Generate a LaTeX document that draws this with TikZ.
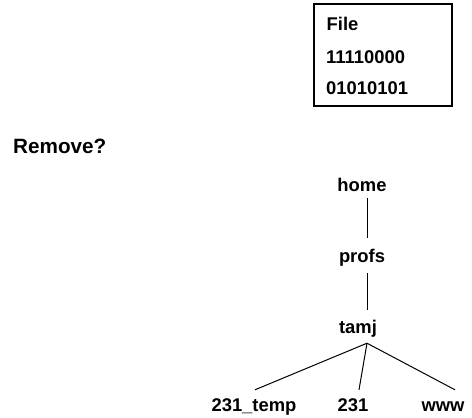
\documentclass[tikz,border=0pt]{standalone}
\usepackage{fontspec}
\setmainfont{Liberation Sans}
\begin{document}
\begin{tikzpicture}[x=1pt,y=-1pt,
  lbl/.style={font=\bfseries\fontsize{18.4}{22}\selectfont, inner sep=0pt,
    text height=13pt, text depth=4pt},
  biglbl/.style={lbl, font=\bfseries\fontsize{20.7}{24}\selectfont},
  link/.style={line width=1pt}]
\path[use as bounding box] (0,0) rectangle (472,418);

% file box with its contents
\node[draw, line width=1.2pt, minimum width=138pt, minimum height=102pt, inner sep=0pt] (filebox) at (383,55) {};
\node[lbl, anchor=base west] (fname) at (326.5,30) {File};
\node[lbl, anchor=base west] (byte1) at (326,63) {11110000};
\node[lbl, anchor=base west] (byte2) at (326,94) {01010101};

\node[biglbl, anchor=base west] (question) at (13,153) {Remove?};

% directory tree
\node[lbl, anchor=base] (home) at (362,191) {home};
\node[lbl, anchor=base] (profs) at (362,262) {profs};
\node[lbl, anchor=base] (tamj) at (358,333) {tamj};
\node[lbl, anchor=base] (tmp) at (254,411) {231\_temp};
\node[lbl, anchor=base] (c231) at (353,411) {231};
\node[lbl, anchor=base] (www) at (443,411) {www};

\coordinate (fork) at ([xshift=9pt,yshift=-6pt]tamj.south);
\draw[link] ([xshift=5pt,yshift=-3pt]home.south) -- ([xshift=5pt,yshift=11pt]profs.north);
\draw[link] ([xshift=5pt,yshift=-7pt]profs.south) -- ([xshift=9pt,yshift=10pt]tamj.north);
\draw[link] (fork) -- ([xshift=1pt,yshift=8pt]tmp.north);
\draw[link] (fork) -- ([xshift=6pt,yshift=8pt]c231.north);
\draw[link] (fork) -- ([xshift=12pt,yshift=8pt]www.north);
\end{tikzpicture}
\end{document}
